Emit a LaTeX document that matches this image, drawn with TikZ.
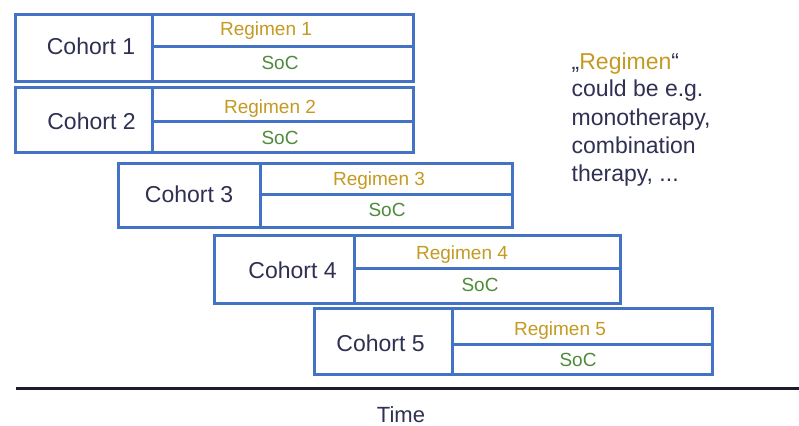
\documentclass[tikz,border=0pt]{standalone}
\usepackage{fontspec}
\setmainfont{Liberation Sans}
\definecolor{boxblue}{HTML}{4472C4}
\definecolor{regold}{HTML}{C49A22}
\definecolor{socgreen}{HTML}{4E8B3A}
\definecolor{navytxt}{HTML}{2F3052}
\definecolor{axisdark}{HTML}{1C1C2C}
\begin{document}
\begin{tikzpicture}[x=1bp,y=-1bp,
  cell/.style={draw=boxblue, line width=3bp, rectangle, inner sep=0pt, fill=white},
  txt/.style={inner sep=0pt, text depth=0pt},
  cohorttxt/.style={txt, text height=16.5bp, text=navytxt, font=\fontsize{23bp}{27bp}\selectfont},
  regtxt/.style={txt, text height=13.6bp, text=regold, font=\fontsize{19bp}{23bp}\selectfont},
  soctxt/.style={txt, text height=13.6bp, text=socgreen, font=\fontsize{19bp}{23bp}\selectfont},
  notetxt/.style={txt, text height=16.5bp, anchor=west, text=navytxt, font=\fontsize{23bp}{28bp}\selectfont},
  timetxt/.style={txt, text height=15.8bp, text=navytxt, font=\fontsize{22bp}{26bp}\selectfont},
  axis/.style={draw=axisdark, line width=3bp}
]
\useasboundingbox (0,0) rectangle (799,425);

% Cohort 1
\node[cell, minimum width=136bp, minimum height=67bp] (c1) at (84,47.5) {};
\node[cell, minimum width=261bp, minimum height=32bp] (r1) at (282.5,30) {};
\node[cell, minimum width=261bp, minimum height=35bp] (s1) at (282.5,63.5) {};
\node[cohorttxt] (c1t) at (91,46.5) {Cohort 1};
\node[regtxt] (r1t) at (266,28.5) {Regimen 1};
\node[soctxt] (s1t) at (280,62.5) {SoC};

% Cohort 2
\node[cell, minimum width=136bp, minimum height=65bp] (c2) at (84,119.5) {};
\node[cell, minimum width=261bp, minimum height=34bp] (r2) at (282.5,104) {};
\node[cell, minimum width=261bp, minimum height=31bp] (s2) at (282.5,136.5) {};
\node[cohorttxt] (c2t) at (91.5,121.5) {Cohort 2};
\node[regtxt] (r2t) at (270,106.5) {Regimen 2};
\node[soctxt] (s2t) at (280,137.5) {SoC};

% Cohort 3
\node[cell, minimum width=142bp, minimum height=64bp] (c3) at (189,195) {};
\node[cell, minimum width=252bp, minimum height=31bp] (r3) at (386,178.5) {};
\node[cell, minimum width=252bp, minimum height=33bp] (s3) at (386,210.5) {};
\node[cohorttxt] (c3t) at (189,194) {Cohort 3};
\node[regtxt] (r3t) at (379,178.8) {Regimen 3};
\node[soctxt] (s3t) at (387,209.6) {SoC};

% Cohort 4
\node[cell, minimum width=140bp, minimum height=68bp] (c4) at (284,269) {};
\node[cell, minimum width=266bp, minimum height=33bp] (r4) at (487,251.5) {};
\node[cell, minimum width=266bp, minimum height=35bp] (s4) at (487,285.5) {};
\node[cohorttxt] (c4t) at (292.5,270) {Cohort 4};
\node[regtxt] (r4t) at (462,252.5) {Regimen 4};
\node[soctxt] (s4t) at (480,285) {SoC};

% Cohort 5
\node[cell, minimum width=138bp, minimum height=66bp] (c5) at (383,341) {};
\node[cell, minimum width=260bp, minimum height=36bp] (r5) at (582,326) {};
\node[cell, minimum width=260bp, minimum height=30bp] (s5) at (582,359) {};
\node[cohorttxt] (c5t) at (380.5,343) {Cohort 5};
\node[regtxt] (r5t) at (560,328.3) {Regimen 5};
\node[soctxt] (s5t) at (578,359.5) {SoC};

% Note
\node[notetxt] (n1) at (571.5,61.5) {„\textcolor{regold}{Regimen}“};
\node[notetxt] (n2) at (571.5,88.5) {could be e.g.};
\node[notetxt] (n3) at (571.5,116.8) {monotherapy,};
\node[notetxt] (n4) at (571.5,145) {combination};
\node[notetxt] (n5) at (571.5,173.3) {therapy, ...};

% Time axis
\coordinate (ax0) at (16,388);
\coordinate (ax1) at (800,388);
\draw[axis] (ax0) -- (ax1);
\node[timetxt] (time) at (401,414.5) {Time};
\end{tikzpicture}
\end{document}
